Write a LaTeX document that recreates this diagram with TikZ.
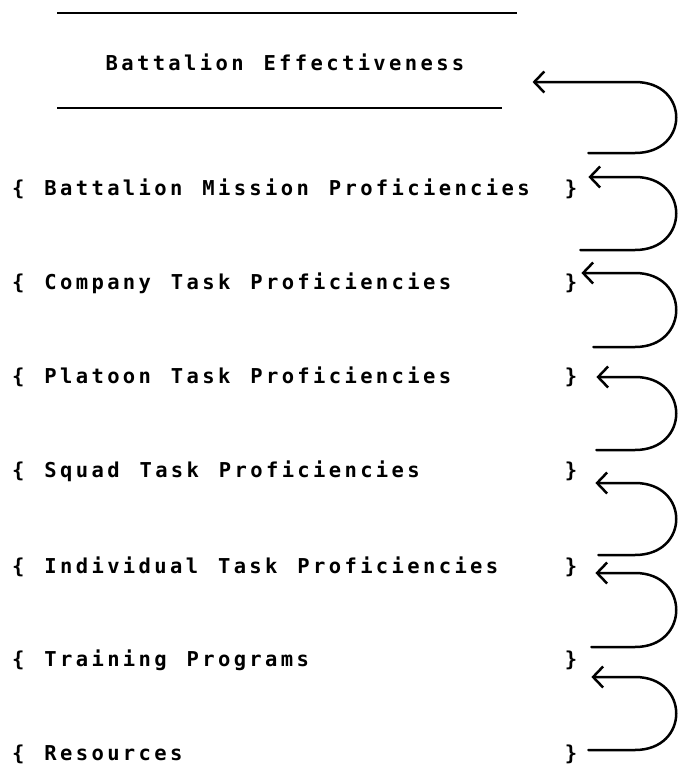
\documentclass[tikz,border=0pt]{standalone}
\usepackage{fontspec}
\newfontfamily\gothic[LetterSpace=16.4,WordSpace=1.27]{DejaVu Sans Mono}
\usetikzlibrary{arrows.meta,calc}

\tikzset{
  item/.style={anchor=west,inner sep=0pt,font=\gothic\bfseries\fontsize{20.5}{20.5}\selectfont},
  rbrace/.style={item,anchor=center},
  feedback/.style={line width=2.5pt,line cap=round,
    -{Straight Barb[length=10pt,width=21pt]}},
  titlerule/.style={line width=2.2pt}
}

\begin{document}
\begin{tikzpicture}[x=1pt,y=-1pt]
    \useasboundingbox (0,0) rectangle (680,772);
    % Top of the chain
    \node[item,anchor=center] (title) at (285,62) {Battalion Effectiveness};
    \draw[titlerule] (57,13) -- (517,13);
    \draw[titlerule] (57,108) -- (502,108);

    % Levels
    \foreach \name/\txt/\y in {bmp/Battalion Mission Proficiencies/189,
        cmp/Company Task Proficiencies/283,
        plt/Platoon Task Proficiencies/377,
        sqd/Squad Task Proficiencies/471,
        ind/Individual Task Proficiencies/567,
        trn/Training Programs/660,
        res/Resources/754} {
      \node[item] (\name) at (12,\y) {\{ \txt};
      \node[rbrace] (\name-rb) at (571,\y) {\}};
    }

    % Feedback loops, each from a lower level up to the next one
    \coordinate (bend) at (635,0);
    \coordinate (ctrl) at (690,0);
    \foreach \lo/\hi/\bx/\by/\tx/\ty in {bmp-rb/title/11/-36/68/20,
        cmp-rb/bmp-rb/3/-33/11/-12,
        plt-rb/cmp-rb/16/-30/4/-10,
        sqd-rb/plt-rb/19/-21/19/0,
        ind-rb/sqd-rb/21/-12/18/12,
        trn-rb/ind-rb/14/-13/18/6,
        res-rb/trn-rb/11/-4/14/17} {
      \coordinate (tail) at ($(\lo.east)+(\bx,\by)$);
      \coordinate (tip) at ($(\hi.east)+(\tx,\ty)$);
      \draw[feedback] (tail) -- (bend |- tail)
        .. controls (ctrl |- tail) and (ctrl |- tip) .. (bend |- tip) -- (tip);
    }
  \end{tikzpicture}
\end{document}
